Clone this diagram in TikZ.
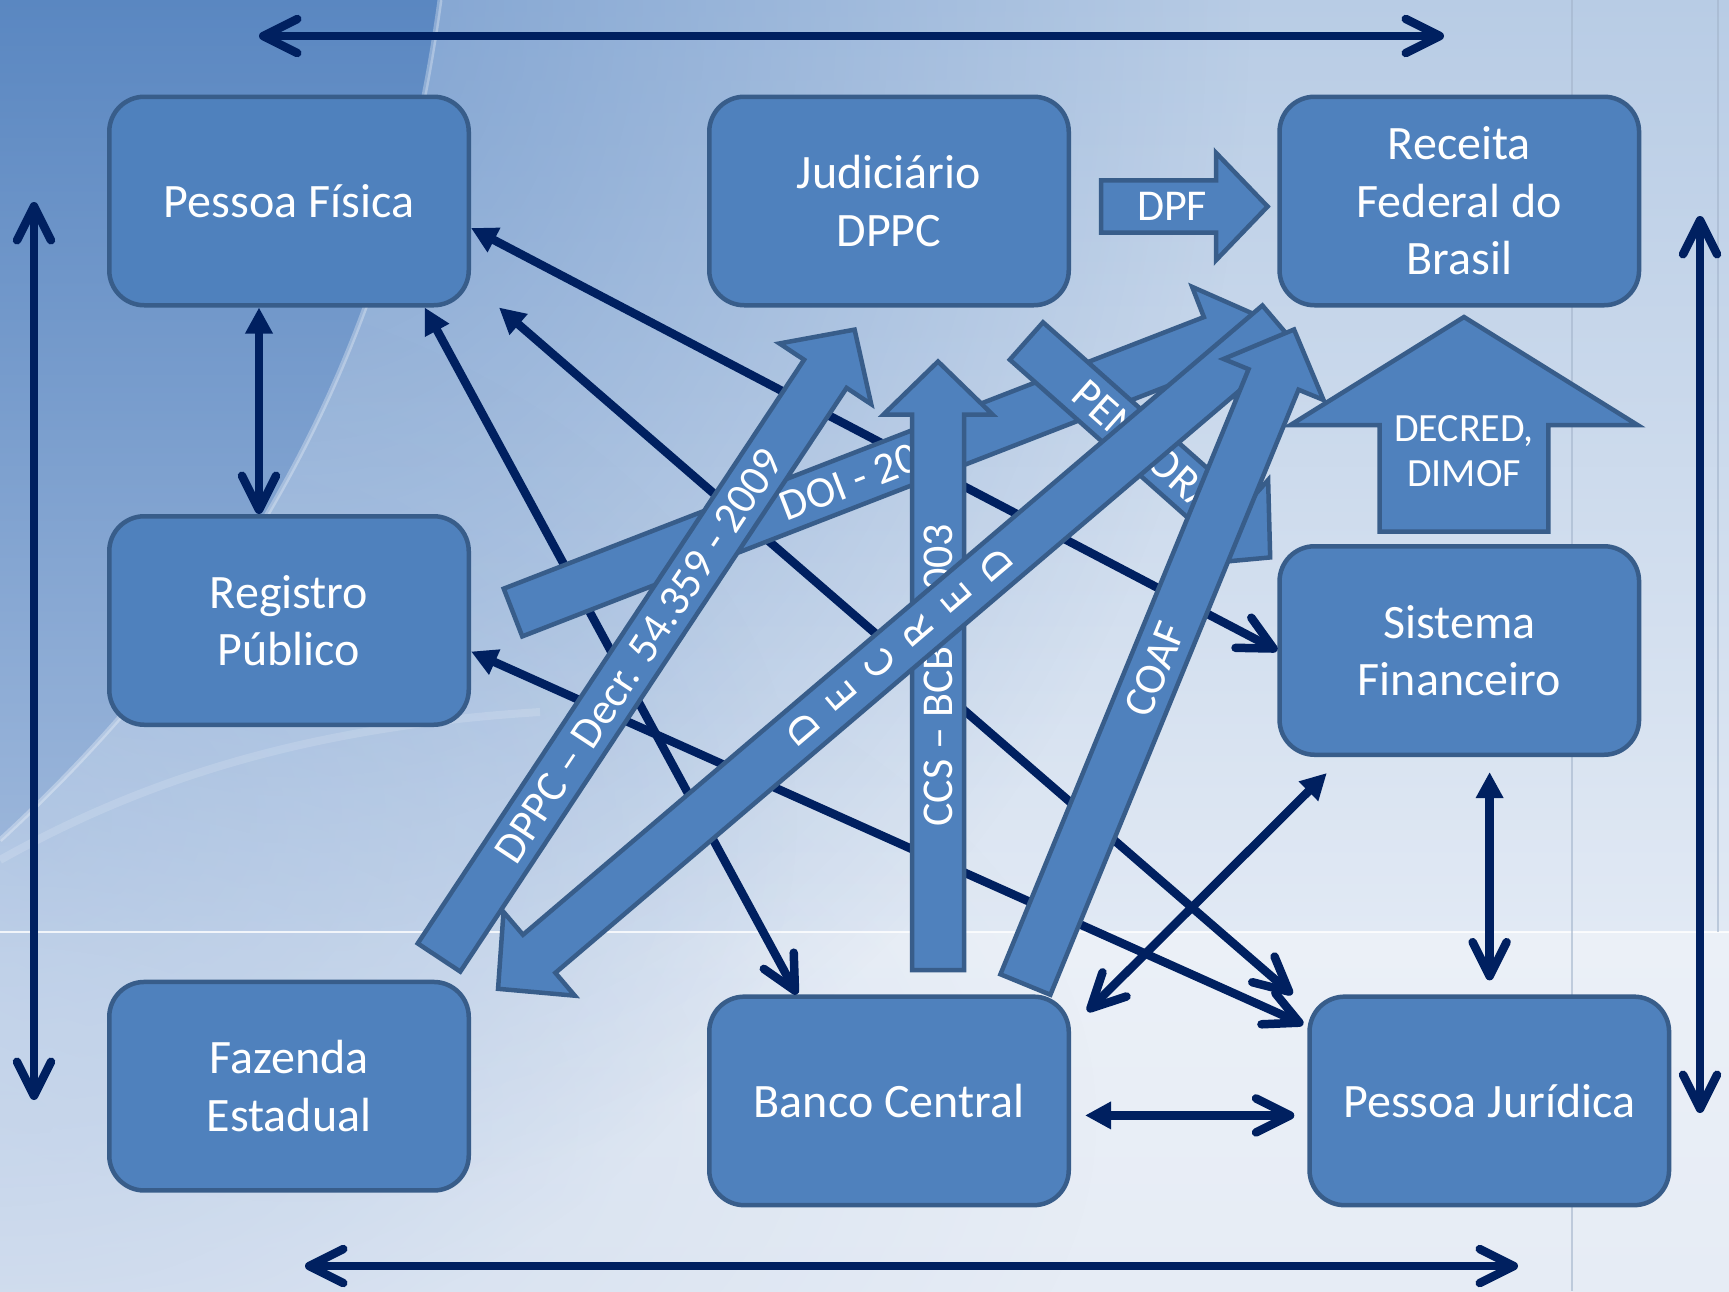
\documentclass[tikz,border=0pt]{standalone}
\usepackage{fontspec}
\setmainfont{Carlito}
\usetikzlibrary{arrows.meta,calc,fadings}
\definecolor{boxfill}{HTML}{4F81BD}
\definecolor{boxline}{HTML}{385D8A}
\definecolor{navy}{HTML}{002060}
\definecolor{bgA}{HTML}{B8CCE5}
\definecolor{bgB}{HTML}{E1E9F4}
\definecolor{bgC}{HTML}{EBF0F7}
\definecolor{bgD}{HTML}{E6ECF5}
\definecolor{blobc}{HTML}{6690C8}
\definecolor{blobd}{HTML}{8EAED8}
\definecolor{blobe}{HTML}{C3D3EA}
\definecolor{darkA}{HTML}{5A87C1}
\definecolor{darkB}{HTML}{9AB5DA}
\definecolor{gridl}{HTML}{A3B4CB}
\tikzfading[name=radfade, inner color=transparent!0, outer color=transparent!100]
\tikzset{
  box/.style={draw=boxline, line width=2.25pt, fill=boxfill, rounded corners=17.5pt,
    minimum width=179.75pt, minimum height=104.25pt, inner sep=0pt, text=white,
    align=center, font=\fontsize{24}{28.8}\selectfont},
  conn/.style={draw=navy, line width=4.25pt},
  vtip/.tip={Straight Barb[length=17pt,width=17pt,round]},
  ttip/.tip={Triangle[length=13pt,width=13pt]},
  barrowstyle/.style={fill=boxfill, draw=boxline, line width=2.25pt},
  atext/.style={text=white, inner sep=0pt, font=\fontsize{22}{26}\selectfont},
}
% tail x, tail y, angle, length, shaft half width, head half width, head length, contents
\newcommand{\blockarr}[8]{%
  \begin{scope}[shift={(#1,#2)}, rotate=#3]
    \path[barrowstyle] (0,-#5) -- ({#4-#7},-#5) -- ({#4-#7},-#6) -- (#4,0)
      -- ({#4-#7},#6) -- ({#4-#7},#5) -- (0,#5) -- cycle;
    #8
  \end{scope}}
\begin{document}
\begin{tikzpicture}[x=0.5pt,y=-0.5pt]
\useasboundingbox (0,0) rectangle (1729,1291);
% ---------- background ----------
\shade[top color=bgA, bottom color=bgB] (0,0) rectangle (1729,932);
\shade[top color=bgC, bottom color=bgD] (0,932) rectangle (1729,1291);
\begin{scope}
  \clip (0,0) rectangle (1729,1291);
  \fill[blobc, opacity=.7, path fading=radfade] (300,0) ellipse (950 and 1200);
  \fill[blobd, opacity=.55, path fading=radfade] (0,820) ellipse (800 and 560);
  \fill[blobe, opacity=.7, path fading=radfade] (0,1120) ellipse (1100 and 600);
\end{scope}
\shade[top color=darkA, bottom color=darkB] (0,0) -- (440,0) .. controls (395,330) and (260,600) .. (0,840) -- cycle;
\draw[white, opacity=.3, line width=2.5pt] (440,0) .. controls (395,330) and (260,600) .. (0,840);
\draw[white, opacity=.15, line width=4pt] (0,860) .. controls (160,770) and (330,725) .. (540,712);
\draw[white, opacity=.8, line width=1pt] (0,932) -- (1729,932);
\draw[gridl, opacity=.6, line width=1pt] (1572,0) -- (1572,1291);
\draw[gridl, opacity=.6, line width=1pt] (1718,0) -- (1718,932);
% ---------- boxes ----------
\node[box] (PF) at (289,201) {Pessoa Física};
\node[box] (JD) at (889,201) {Judiciário\\DPPC};
\node[box] (RF) at (1459.3,201) {Receita\\Federal do\\Brasil};
\node[box] (RP) at (289,620.5) {Registro\\Público};
\node[box] (SF) at (1459.3,650.5) {Sistema\\Financeiro};
\node[box] (FE) at (289,1086.2) {Fazenda\\Estadual};
\node[box] (BC) at (889,1100.9) {Banco Central};
\node[box] (PJ) at (1489.3,1100.9) {Pessoa Jurídica};
% ---------- frame arrows ----------
\coordinate (t1) at (259,36);   \coordinate (t2) at (1444,36);
\coordinate (b1) at (305,1266); \coordinate (b2) at (1518,1266);
\coordinate (l1) at (34,202);   \coordinate (l2) at (34,1100);
\coordinate (r1) at (1700,216); \coordinate (r2) at (1700,1113);
\draw[conn, vtip-vtip] (t1) -- (t2);
\draw[conn, vtip-vtip] (b1) -- (b2);
\draw[conn, vtip-vtip] (l1) -- (l2);
\draw[conn, vtip-vtip] (r1) -- (r2);
% ---------- connectors ----------
\draw[conn, ttip-vtip] ($(PF.south)+(-30,0)$) -- ($(RP.north)+(-30,0)$);
\draw[conn, ttip-vtip] ($(PF.east)+(0,27)$) -- (SF.west);
\draw[conn, ttip-vtip] ($(PF.south east)+(28,0)$) -- ($(PJ.north west)+(-15,0)$);
\draw[conn, ttip-vtip] ($(PF.south)+(135.7,0)$) -- ($(BC.north)+(-92,0)$);
\draw[conn, ttip-vtip] ($(RP.east)+(0,31)$) -- ($(PJ.north west)+(-4,30)$);
\draw[conn, vtip-ttip] ($(BC.north east)+(16.4,17)$) -- ($(SF.south west)+(49.5,16)$);
\draw[conn, ttip-vtip] ($(SF.south)+(30.3,15)$) -- ($(PJ.north)+(0.3,-14)$);
\draw[conn, ttip-vtip] ($(BC.east)+(14,14.5)$) -- ($(PJ.west)+(-13,14.5)$);
% ---------- block arrows ----------
\blockarr{1101}{206.5}{0}{166.6}{26.2}{53.7}{51.6}{\node[atext] (tdpf) at (71,0) {DPF};}
\blockarr{1464}{531.5}{90}{214.5}{84.4}{173.5}{108}{\node[atext, align=center, font=\fontsize{20}{22.5}\selectfont] (tdimof) at (80.5,0) {DECRED,\\DIMOF};}
\blockarr{513}{612.5}{21.2}{809}{25.6}{58}{58}{\node[atext, rotate=21.2, anchor=west] (tdoi) at (288,0) {DOI - 20};}
\blockarr{938}{970}{90}{608.5}{26}{54.5}{53}{\node[atext, rotate=90, anchor=west] (tccs) at (143,0) {CCS – BCB - 2003};}
\blockarr{439}{957.5}{56.5}{753}{25.5}{55}{53}{\node[atext, rotate=56.5] (tdppc) at (362,0) {DPPC – Decr. 54.359 - 2009};}
\blockarr{1026.4}{341}{-41.6}{326}{25}{56.6}{53}{\node[atext, rotate=-41.6] (tpen) at (160,0) {PENHORA};}
\blockarr{1278.6}{324.5}{220.4}{1025}{25}{55}{54}{%
  \node[atext, rotate=130.4] (dc1) at (625,0) {D};
  \node[atext, rotate=130.4] (dc2) at (574,0) {E};
  \node[atext, rotate=130.4] (dc3) at (523,0) {C};
  \node[atext, rotate=130.4] (dc4) at (473,0) {R};
  \node[atext, rotate=130.4] (dc5) at (422,0) {E};
  \node[atext, rotate=130.4] (dc6) at (371,0) {D};}
\blockarr{1025.4}{984.5}{67.7}{708}{27}{54}{54}{\node[atext, rotate=67.7] (tcoaf) at (341,0) {COAF};}
\end{tikzpicture}
\end{document}
